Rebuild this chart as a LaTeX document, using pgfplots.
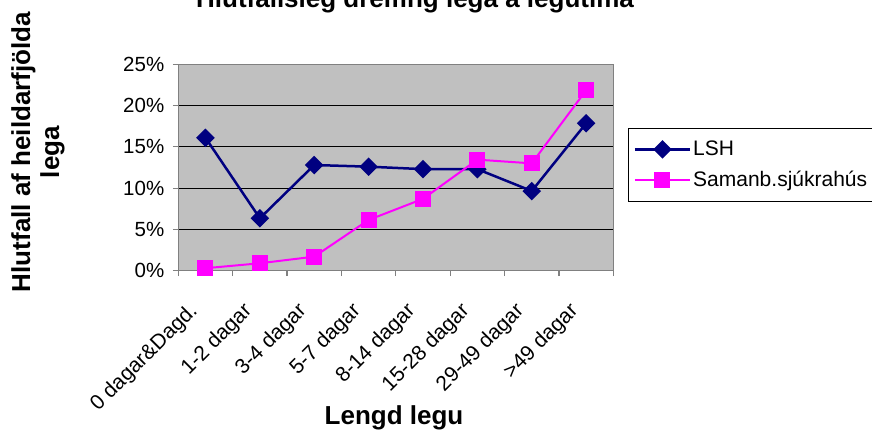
\documentclass[border=0pt]{standalone}
\usepackage{fontspec}
\setmainfont{Liberation Sans}
\usepackage{pgfplots}
\pgfplotsset{compat=1.18}
\definecolor{plotbg}{RGB}{192,192,192}
\definecolor{lsh}{RGB}{0,0,128}
\definecolor{sam}{RGB}{255,0,255}
\definecolor{axgray}{RGB}{128,128,128}
\begin{document}
\begin{tikzpicture}[x=1pt,y=1pt]
\begin{axis}[
  at={(178.3pt,164.3pt)}, anchor=south west,
  scale only axis, width=435pt, height=206.4pt,
  xmin=-0.5, xmax=7.5, ymin=0, ymax=25,
  axis background/.style={fill=plotbg},
  axis line style={draw=axgray, line width=1.3pt},
  tick align=outside,
  xtick={0,...,7},
  xticklabels={0 dagar\&Dagd., 1-2 dagar, 3-4 dagar, 5-7 dagar, 8-14 dagar, 15-28 dagar, 29-49 dagar, >49 dagar},
  major x tick style={draw=none},
  minor xtick={-0.5,0.5,...,7.5},
  minor tick length=5.5pt,
  major tick length=5.5pt,
  minor x tick style={draw=axgray, line width=1.2pt},
  x tick label style={xshift=-18pt, yshift=-20pt, rotate=45, anchor=north east, font=\fontsize{21}{24}\selectfont},
  ytick={0,5,...,25},
  y tick style={draw=axgray, line width=1.2pt},
  yticklabel={\pgfmathprintnumber{\tick}\%},
  y tick label style={font=\fontsize{20.5}{24}\selectfont, xshift=-5pt},
  /pgf/number format/assume math mode=true,
  ymajorgrids,
  y grid style={black, line width=1.1pt},
  xtick pos=bottom, ytick pos=left,
  legend style={at={(1.0345,0.692)}, anchor=north west, draw=black, line width=0.8pt, fill=white,
    font=\fontsize{21}{24}\selectfont, cells={anchor=west}, row sep=10pt, inner xsep=5pt, inner ysep=11pt},
  legend image code/.code={\draw[mark repeat=2,mark phase=2,#1] plot coordinates {(0pt,0pt)(27.5pt,0pt)(55pt,0pt)};},
  clip=false,
]
\addplot[lsh, line width=2.5pt, mark=square*, mark size=5.3pt, mark options={rotate=45, solid, fill=lsh}]
  coordinates {(0,16.1) (1,6.35) (2,12.8) (3,12.6) (4,12.3) (5,12.3) (6,9.65) (7,17.85)};
\addlegendentry{LSH}
\addplot[sam, line width=2pt, mark=square*, mark size=7pt, mark options={solid, fill=sam}]
  coordinates {(0,0.3) (1,0.9) (2,1.7) (3,6.15) (4,8.7) (5,13.45) (6,13.0) (7,21.85)};
\addlegendentry{Samanb.sjúkrahús}
\end{axis}
\node[anchor=base, font=\bfseries\fontsize{26}{30}\selectfont] at (415,427.7) {Hlutfallsleg dreifing lega á legutíma};
\node[anchor=base, rotate=90, font=\bfseries\fontsize{26}{30}\selectfont] at (30,283) {Hlutfall af heildarfjölda};
\node[anchor=base, rotate=90, font=\bfseries\fontsize{26}{30}\selectfont] at (59,283) {lega};
\node[anchor=base, font=\bfseries\fontsize{26}{30}\selectfont] at (394,10) {Lengd legu};
\pgfresetboundingbox
\useasboundingbox (0,0) rectangle (872,435);
\end{tikzpicture}
\end{document}
